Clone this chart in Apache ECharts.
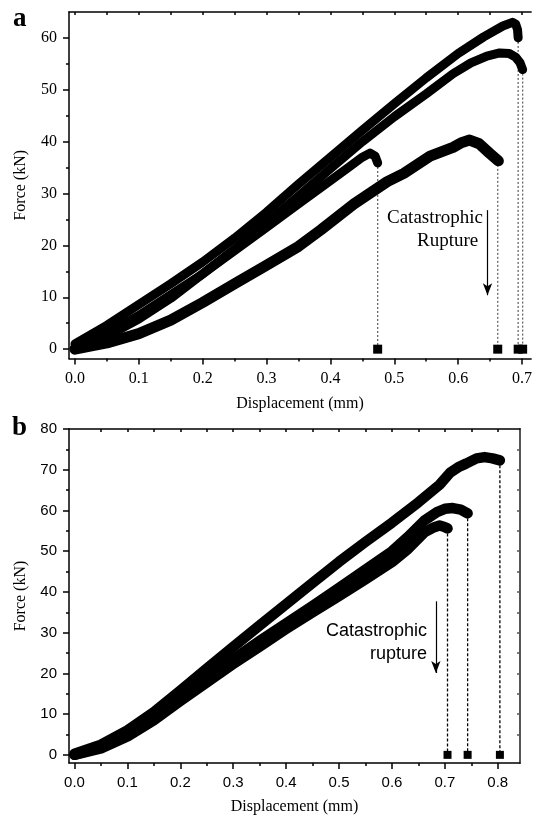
<!DOCTYPE html>
<html>
<head>
<meta charset="utf-8">
<script src="https://cdn.jsdelivr.net/npm/echarts@6/dist/echarts.min.js"></script>
<style>html,body{margin:0;padding:0;background:#fff}#c{width:535px;height:816px}</style>
</head>
<body>
<div id="c"></div>
<script>
// ---------- Panel a data (Displacement mm, Force kN) ----------
const curveA1 = [[0,1.0],[0.05,4.6],[0.1,8.6],[0.15,12.6],[0.2,16.8],[0.25,21.4],[0.3,26.4],[0.35,31.8],[0.4,37.0],[0.45,42.2],[0.5,47.3],[0.55,52.3],[0.6,57.0],[0.64,60.2],[0.67,62.3],[0.685,63.0],[0.69,62.7],[0.693,61.6],[0.694,60.0]];
const curveA2 = [[0,0.2],[0.05,2.5],[0.1,5.8],[0.15,9.8],[0.2,14.5],[0.25,19.3],[0.3,24.3],[0.35,29.5],[0.4,34.8],[0.45,40.0],[0.5,44.8],[0.55,49.2],[0.592,53.1],[0.62,55.2],[0.645,56.5],[0.665,57.1],[0.68,57.0],[0.69,56.3],[0.697,55.2],[0.701,53.9]];
const curveA3 = [[0,0.3],[0.05,3.0],[0.1,6.5],[0.15,10.5],[0.2,14.5],[0.25,19.0],[0.3,23.5],[0.35,28.0],[0.4,32.5],[0.43,35.2],[0.45,37.0],[0.462,37.8],[0.47,37.2],[0.474,35.9]];
const curveA4 = [[0,0],[0.05,1.2],[0.1,3.0],[0.15,5.6],[0.2,9.0],[0.25,12.6],[0.3,16.2],[0.35,19.8],[0.385,23.0],[0.437,28.0],[0.489,32.3],[0.515,33.9],[0.556,37.2],[0.592,38.9],[0.605,39.8],[0.618,40.3],[0.633,39.6],[0.649,37.8],[0.663,36.3]];
const ruptureA = [[0.474,35.9],[0.662,36.3],[0.694,60.0],[0.701,53.9]];
const arrowA = [[0.646,26.8],[0.646,10.4]];
const aXMajor = [0,0.1,0.2,0.3,0.4,0.5,0.6,0.7];
const aXMinor = [0.05,0.15,0.25,0.35,0.45,0.55,0.65];
const aXTop = [0,0.05,0.1,0.15,0.2,0.25,0.3,0.35,0.4,0.45,0.5,0.55,0.6,0.65,0.7];
const aYMajor = [0,10,20,30,40,50,60];
const aYMinor = [5,15,25,35,45,55];

// ---------- Panel b data ----------
const curveB1 = [[0,0.3],[0.05,2.5],[0.1,6.0],[0.15,10.5],[0.2,15.8],[0.25,21.2],[0.3,26.5],[0.35,31.8],[0.4,37.0],[0.45,42.2],[0.5,47.4],[0.55,52.3],[0.6,57.0],[0.65,62.0],[0.69,66.3],[0.71,69.3],[0.725,70.6],[0.74,71.5],[0.76,72.8],[0.775,73.1],[0.79,72.8],[0.804,72.3]];
const curveB2 = [[0,0],[0.05,2.0],[0.1,5.0],[0.15,9.2],[0.2,14.0],[0.25,18.8],[0.3,23.5],[0.35,28.0],[0.4,32.3],[0.45,36.6],[0.5,41.0],[0.55,45.5],[0.6,50.0],[0.63,53.5],[0.661,57.5],[0.685,59.6],[0.7,60.4],[0.715,60.6],[0.73,60.2],[0.743,59.3]];
const curveB3 = [[0,0],[0.05,1.6],[0.1,4.5],[0.15,8.5],[0.2,13.2],[0.25,17.8],[0.3,22.3],[0.35,26.6],[0.4,30.9],[0.45,35.0],[0.5,39.0],[0.55,43.1],[0.6,47.3],[0.63,50.5],[0.661,54.6],[0.68,55.9],[0.69,56.3],[0.698,56.0],[0.705,55.6]];
const ruptureB = [[0.705,55.6],[0.743,59.3],[0.804,72.3]];
const arrowB = [[0.683,37.7],[0.683,20.1]];
const bXMajor = [0,0.1,0.2,0.3,0.4,0.5,0.6,0.7,0.8];
const bXMinor = [0.05,0.15,0.25,0.35,0.45,0.55,0.65,0.75];
const bXTop = [0.05,0.1,0.15,0.2,0.25,0.3,0.35,0.4,0.45,0.5,0.55,0.6,0.65,0.7,0.75,0.8];
const bYMajor = [0,10,20,30,40,50,60,70,80];
const bYMinor = [5,15,25,35,45,55,65,75];
const bYRight = [5,10,15,20,25,30,35,40,45,50,55,60,65,70,75];

const SERIF = '"Liberation Serif","Times New Roman",serif';
const SANS = '"Liberation Sans",Arial,sans-serif';

function baseAxis(extra) {
  return Object.assign({
    type: 'value', splitLine: {show: false}, axisPointer: {show: false},
    axisLine: {show: true, onZero: false, lineStyle: {color: '#000', width: 1.5}},
    axisTick: {show: false}, axisLabel: {show: false}, minorTick: {show: false}
  }, extra);
}
const hiddenLine = {show: false, onZero: false};
function ticks(vals, len, inside, color) {
  return {show: true, customValues: vals, length: len, inside: !!inside, lineStyle: {color: color || '#000', width: 1.5}};
}

const A = {xmin: -0.0093, xmax: 0.7143, ymin: -1.8, ymax: 65};
const B = {xmin: -0.0104, xmax: 0.842, ymin: -2.0, ymax: 80};

const xAxes = [
  baseAxis({gridIndex: 0, position: 'bottom', min: A.xmin, max: A.xmax,
    axisTick: ticks(aXMajor, 6),
    axisLabel: {show: true, customValues: aXMajor, margin: 12, color: '#000', fontFamily: SERIF, fontSize: 16, formatter: v => v.toFixed(1)},
    name: 'Displacement (mm)', nameLocation: 'middle', nameGap: 37,
    nameTextStyle: {fontFamily: SERIF, fontSize: 16, color: '#000'}}),
  baseAxis({gridIndex: 0, position: 'bottom', min: A.xmin, max: A.xmax, axisLine: hiddenLine, axisTick: ticks(aXMinor, 3)}),
  baseAxis({gridIndex: 0, position: 'top', min: A.xmin, max: A.xmax, axisTick: ticks(aXTop, 3, true)}),
  baseAxis({gridIndex: 1, position: 'bottom', min: B.xmin, max: B.xmax,
    axisTick: ticks(bXMajor, 6),
    axisLabel: {show: true, customValues: bXMajor, margin: 12, color: '#000', fontFamily: SANS, fontSize: 15, formatter: v => v.toFixed(1)},
    name: 'Displacement (mm)', nameLocation: 'middle', nameGap: 36,
    nameTextStyle: {fontFamily: SERIF, fontSize: 16, color: '#000'}}),
  baseAxis({gridIndex: 1, position: 'bottom', min: B.xmin, max: B.xmax, axisLine: hiddenLine, axisTick: ticks(bXMinor, 3)}),
  baseAxis({gridIndex: 1, position: 'top', min: B.xmin, max: B.xmax, axisTick: ticks(bXTop, 3, true)})
];
const yAxes = [
  baseAxis({gridIndex: 0, position: 'left', min: A.ymin, max: A.ymax,
    axisTick: ticks(aYMajor, 6),
    axisLabel: {show: true, customValues: aYMajor, margin: 12, color: '#000', fontFamily: SERIF, fontSize: 16},
    name: 'Force (kN)', nameLocation: 'middle', nameGap: 40,
    nameTextStyle: {fontFamily: SERIF, fontSize: 16, color: '#000'}}),
  baseAxis({gridIndex: 0, position: 'left', min: A.ymin, max: A.ymax, axisLine: hiddenLine, axisTick: ticks(aYMinor, 3)}),
  baseAxis({gridIndex: 1, position: 'left', min: B.ymin, max: B.ymax,
    axisTick: ticks(bYMajor, 6),
    axisLabel: {show: true, customValues: bYMajor, margin: 12, color: '#000', fontFamily: SANS, fontSize: 15},
    name: 'Force (kN)', nameLocation: 'middle', nameGap: 40,
    nameTextStyle: {fontFamily: SERIF, fontSize: 16, color: '#000'}}),
  baseAxis({gridIndex: 1, position: 'left', min: B.ymin, max: B.ymax, axisLine: hiddenLine, axisTick: ticks(bYMinor, 3)}),
  baseAxis({gridIndex: 1, position: 'right', min: B.ymin, max: B.ymax,
    axisLine: {show: true, onZero: false, lineStyle: {color: '#555', width: 2}},
    axisTick: ticks(bYRight, 3, true, '#555')})
];

const series = [];
function curve(data, xi, yi, w) {
  series.push({type: 'line', xAxisIndex: xi, yAxisIndex: yi, data: data, showSymbol: false, symbol: 'none', silent: true,
    lineStyle: {color: '#000', width: w, cap: 'round', join: 'round'}, z: 3});
}
function ruptures(ends, xi, yi, dash, color, size) {
  ends.forEach(p => {
    series.push({type: 'line', xAxisIndex: xi, yAxisIndex: yi, data: [p, [p[0], 0]], showSymbol: false, symbol: 'none', silent: true,
      lineStyle: {color: color, width: 1.3, type: dash}, z: 2});
  });
  series.push({type: 'scatter', xAxisIndex: xi, yAxisIndex: yi, data: ends.map(p => [p[0], 0]), symbol: 'rect', symbolSize: size,
    itemStyle: {color: '#000', opacity: 1}, silent: true, z: 4});
}
function arrow(pts, xi, yi) {
  series.push({type: 'line', xAxisIndex: xi, yAxisIndex: yi, data: [], silent: true,
    markLine: {silent: true, animation: false, symbol: ['none', 'arrow'], symbolSize: [7, 12], label: {show: false},
      lineStyle: {color: '#000', width: 1.2, type: 'solid'},
      data: [[{coord: pts[0]}, {coord: pts[1]}]]}});
}

[curveA1, curveA2, curveA3].forEach(c => curve(c, 0, 0, 9));
curve(curveA4, 0, 0, 11);
ruptures(ruptureA, 0, 0, [2, 2], '#666', 9);
arrow(arrowA, 0, 0);
[curveB1, curveB2, curveB3].forEach(c => curve(c, 3, 2, 10.5));
ruptures(ruptureB, 3, 2, [3, 2], '#000', 8);
arrow(arrowB, 3, 2);

const chart = echarts.init(document.getElementById('c'), null, {renderer: 'canvas'});
chart.setOption({
  animation: false,
  backgroundColor: '#fff',
  grid: [
    {left: 69, right: 0, top: 12, bottom: 457.5, containLabel: false},
    {left: 69, right: 15, top: 429, bottom: 52, containLabel: false}
  ],
  xAxis: xAxes,
  yAxis: yAxes,
  series: series,
  graphic: [
    {type: 'text', left: 13, top: 6, style: {text: 'a', font: 'bold 27px ' + SERIF, fill: '#000'}},
    {type: 'text', left: 12, top: 415, style: {text: 'b', font: 'bold 27px ' + SERIF, fill: '#000'}},
    {type: 'text', left: 387, top: 209, style: {text: 'Catastrophic', font: '19px ' + SERIF, fill: '#000'}},
    {type: 'text', left: 417, top: 232, style: {text: 'Rupture', font: '19px ' + SERIF, fill: '#000'}},
    {type: 'text', right: 108, top: 622, style: {text: 'Catastrophic', font: '18px ' + SANS, fill: '#000'}},
    {type: 'text', right: 108, top: 645, style: {text: 'rupture', font: '18px ' + SANS, fill: '#000'}}
  ]
});
</script>
</body>
</html>
